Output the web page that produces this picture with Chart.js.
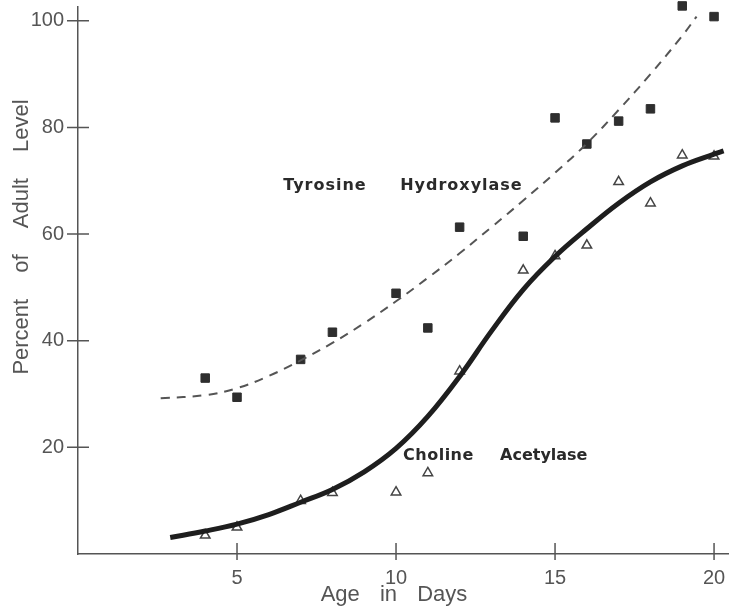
<!DOCTYPE html>
<html lang="en">

<head>
    <meta charset="UTF-8">
    <title>Tyrosine Hydroxylase / Choline Acetylase</title>
    <script src="https://cdn.jsdelivr.net/npm/chart.js"></script>
    <style>
        html, body { margin: 0; padding: 0; background: #fff; overflow: hidden; }
        .chart-box { width: 729px; height: 611px; }
    </style>
</head>

<body>
    <div class="chart-box">
        <canvas class="custom-chart"></canvas>
    </div>

    <script>
        // measured points (squares = tyrosine hydroxylase, triangles = choline acetylase)
        var tyrDays = [4, 5, 7, 8, 10, 11, 12, 14, 15, 16, 17, 18, 19, 20];
        var tyrValues = [33.0, 29.4, 36.5, 41.6, 48.9, 42.4, 61.3, 59.6, 81.8, 76.9, 81.2, 83.5, 102.8, 100.8];
        var chaDays = [4, 5, 7, 8, 10, 11, 12, 14, 15, 16, 17, 18, 19, 20];
        var chaValues = [3.5, 5.0, 10.0, 11.5, 11.6, 15.2, 34.3, 53.2, 55.9, 57.9, 69.8, 65.8, 74.8, 74.6];

        // fitted curves
        var tyrCurveDays = [2.6, 4, 5, 6, 7, 8, 9, 10, 11, 12, 13, 14, 15, 16, 17, 18, 19, 19.45];
        var tyrCurveValues = [29.2, 29.8, 31.1, 33.4, 36.3, 39.6, 43.3, 47.4, 51.8, 56.4, 61.3, 66.3, 71.5, 77.0, 83.3, 90.0, 97.2, 100.8];
        var chaCurveDays = [2.9, 4, 5, 6, 7, 8, 9, 10, 11, 12, 13, 14, 15, 16, 17, 18, 19, 20, 20.3];
        var chaCurveValues = [3.1, 4.3, 5.6, 7.4, 9.7, 12.1, 15.4, 19.8, 25.8, 33.3, 41.8, 49.6, 55.8, 61.0, 65.8, 69.8, 72.8, 75.0, 75.6];

        var xTicks = [5, 10, 15, 20];
        var yTicks = [20, 40, 60, 80, 100];

        function toPoints(xs, ys) {
            var list = [];
            for (var i = 0; i < xs.length; i++) {
                list.push({ x: xs[i], y: ys[i] });
            }
            return list;
        }

        // no extra room for half labels, the frame must fill the canvas
        function noPad(axis) {
            axis.paddingTop = 0;
            axis.paddingBottom = 0;
            axis.paddingLeft = 0;
            axis.paddingRight = 0;
        }

        // tick marks that cross the axis line + free text labels
        var paperPlugin = {
            id: 'paper',
            afterDraw: function (chart) {
                var ctx = chart.ctx;
                var xs = chart.scales.x;
                var ys = chart.scales.y;
                var area = chart.chartArea;

                ctx.save();
                ctx.strokeStyle = '#555';
                ctx.lineWidth = 1.5;
                ctx.beginPath();
                xTicks.forEach(function (v) {
                    var px = xs.getPixelForValue(v);
                    ctx.moveTo(px, area.bottom - 11);
                    ctx.lineTo(px, area.bottom + 6);
                });
                yTicks.forEach(function (v) {
                    var py = ys.getPixelForValue(v);
                    ctx.moveTo(area.left - 11, py);
                    ctx.lineTo(area.left + 11, py);
                });
                ctx.stroke();

                // series names
                ctx.fillStyle = '#2a2a2a';
                ctx.font = 'bold 16px "DejaVu Sans"';
                ctx.letterSpacing = '1px';
                ctx.textBaseline = 'middle';
                ctx.textAlign = 'left';
                ctx.fillText('Tyrosine', xs.getPixelForValue(6.45), ys.getPixelForValue(69.0));
                ctx.fillText('Hydroxylase', xs.getPixelForValue(10.13), ys.getPixelForValue(69.0));
                ctx.letterSpacing = '0.5px';
                ctx.fillText('Choline', xs.getPixelForValue(10.22), ys.getPixelForValue(18.5));
                ctx.letterSpacing = '0px';
                ctx.fillText('Acetylase', xs.getPixelForValue(13.27), ys.getPixelForValue(18.5));

                // axis titles
                ctx.fillStyle = '#555';
                ctx.font = '22px "Liberation Sans"';
                ctx.textAlign = 'center';
                ctx.wordSpacing = '14px';
                ctx.fillText('Age in Days', 394, 595);

                ctx.translate(22, 237);
                ctx.rotate(-Math.PI / 2);
                ctx.wordSpacing = '20px';
                ctx.fillText('Percent of Adult Level', 0, 0);
                ctx.restore();
            }
        };

        var ctx = document.querySelector('.custom-chart');

        new Chart(ctx, {
            type: 'scatter',
            data: {
                datasets: [
                    {
                        label: 'Tyrosine Hydroxylase fit',
                        data: toPoints(tyrCurveDays, tyrCurveValues),
                        showLine: true,
                        pointRadius: 0,
                        borderColor: '#555',
                        borderWidth: 2,
                        borderDash: [9, 7],
                        tension: 0.4,
                        clip: false
                    },
                    {
                        label: 'Choline Acetylase fit',
                        data: toPoints(chaCurveDays, chaCurveValues),
                        showLine: true,
                        pointRadius: 0,
                        borderColor: '#1e1e1e',
                        borderWidth: 5,
                        tension: 0.4,
                        clip: false
                    },
                    {
                        label: 'Tyrosine Hydroxylase',
                        data: toPoints(tyrDays, tyrValues),
                        pointStyle: 'rect',
                        pointRadius: 6,
                        backgroundColor: '#2e2e2e',
                        borderColor: '#2e2e2e',
                        borderWidth: 1,
                        clip: false
                    },
                    {
                        label: 'Choline Acetylase',
                        data: toPoints(chaDays, chaValues),
                        pointStyle: 'triangle',
                        pointRadius: 5.5,
                        backgroundColor: '#fff',
                        borderColor: '#444',
                        borderWidth: 1.5,
                        clip: false
                    }
                ]
            },
            options: {
                animation: false,
                responsive: true,
                maintainAspectRatio: false,
                // points may hang over the frame, like on the paper
                layout: { autoPadding: false, padding: { top: 7, right: 0, left: 0, bottom: 0 } },
                plugins: {
                    legend: { display: false },
                    tooltip: { enabled: false }
                },
                scales: {
                    x: {
                        type: 'linear',
                        min: 0,
                        max: 20.47,
                        grid: { display: false },
                        border: { display: true, color: '#555', width: 1.5 },
                        afterBuildTicks: function (axis) {
                            axis.ticks = xTicks.map(function (v) { return { value: v }; });
                        },
                        afterFit: function (axis) { axis.height = 57; noPad(axis); },
                        ticks: {
                            padding: 4,
                            color: '#555',
                            font: { family: 'Liberation Sans', size: 20 }
                        }
                    },
                    y: {
                        type: 'linear',
                        min: 0,
                        max: 102.6,
                        grid: { display: false },
                        border: { display: true, color: '#555', width: 1.5 },
                        afterBuildTicks: function (axis) {
                            axis.ticks = yTicks.map(function (v) { return { value: v }; });
                        },
                        afterFit: function (axis) { axis.width = 78; noPad(axis); },
                        ticks: {
                            padding: 6,
                            color: '#555',
                            font: { family: 'Liberation Sans', size: 20 }
                        }
                    }
                }
            },
            plugins: [paperPlugin]
        });
    </script>
</body>

</html>
